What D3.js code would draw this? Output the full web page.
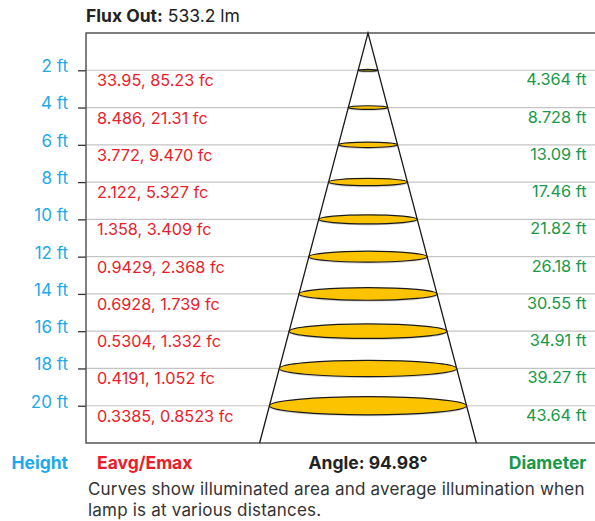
<!DOCTYPE html>
<html>
<head>
<meta charset="utf-8">
<script src="https://cdn.jsdelivr.net/npm/d3@7"></script>
<style>
  body { margin: 0; background: #fff; }
  svg { font-family: Inter, Roboto, "Noto Sans", sans-serif; }
</style>
</head>
<body>
<svg id="chart" width="595" height="521"></svg>
<script>
// data
const heights = [2, 4, 6, 8, 10, 12, 14, 16, 18, 20];
const eavg = ["33.95", "8.486", "3.772", "2.122", "1.358", "0.9429", "0.6928", "0.5304", "0.4191", "0.3385"];
const emax = ["85.23", "21.31", "9.470", "5.327", "3.409", "2.368", "1.739", "1.332", "1.052", "0.8523"];
const diameters = [4.364, 8.728, 13.09, 17.46, 21.82, 26.18, 30.55, 34.91, 39.27, 43.64];
const beamAngle = 94.98;
const fluxOut = "533.2 lm";

const blue = "#1ea9ec", red = "#ec1c2a", green = "#18994a", dark = "#333";
const fs = 16.3;   // value labels
const fsHead = 17.5; // title and column headers

let svg = d3.select("#chart");

let plotLeft = 86, plotRight = 595, plotTop = 33, plotBottom = 443;
let cx = 368;

let yScale = d3.scaleLinear().domain([0, 22]).range([plotTop, plotBottom]);
// horizontal scale for half diameter (ft -> px)
let wScale = d3.scaleLinear().domain([0, 24]).range([0, 108.4]);
let halfAt = h => Math.tan(beamAngle / 2 * Math.PI / 180) * h;

// gridlines
svg.selectAll(".grid")
    .data(heights)
    .enter()
    .append("line")
    .attr("x1", plotLeft).attr("x2", plotRight)
    .attr("y1", d => yScale(d)).attr("y2", d => yScale(d))
    .attr("stroke", "#c4c4c4").attr("stroke-width", 1.2)

// y axis with ticks
let y_axis = d3.axisLeft(yScale)
    .tickValues(heights)
    .tickSize(8)
    .tickPadding(10)
    .tickFormat(d => d + " ft")
let gy = svg.append("g").attr("transform", `translate(${plotLeft},0)`).call(y_axis)
gy.select(".domain").remove()
gy.selectAll(".tick line").attr("stroke", dark).attr("stroke-width", 1.3)
gy.selectAll(".tick text")
    .attr("fill", blue)
    .attr("font-size", 17)
    .attr("font-family", "Inter")
    .attr("dy", "0.08em")

// frame: top, left, bottom
svg.append("path")
    .attr("d", `M${plotRight},${plotTop}H${plotLeft}V${plotBottom}H${plotRight}`)
    .attr("fill", "none").attr("stroke", "#555").attr("stroke-width", 1.5)

// cone
let hBottom = yScale.domain()[1];
svg.append("path")
    .attr("d", d3.line()([
        [cx - wScale(halfAt(hBottom)), yScale(hBottom)],
        [cx, yScale(0)],
        [cx + wScale(halfAt(hBottom)), yScale(hBottom)]
    ]))
    .attr("fill", "none").attr("stroke", "#1a1a1a").attr("stroke-width", 1.3)

// illuminated areas
let spots = svg.selectAll(".spot")
    .data(diameters)
    .enter()
    .append("g")
    .attr("transform", (d, i) => `translate(${cx},${yScale(heights[i])})`)
spots.append("ellipse")
    .attr("cy", 1.5)
    .attr("rx", d => wScale(d / 2))
    .attr("ry", d => wScale(d / 2) * 0.092)
    .attr("fill", "#000").attr("opacity", 0.18)
spots.append("ellipse")
    .attr("rx", d => wScale(d / 2))
    .attr("ry", d => wScale(d / 2) * 0.092)
    .attr("fill", "#fcc400").attr("stroke", "#1a1a1a").attr("stroke-width", 1.2)

// illuminance labels
svg.selectAll(".lux")
    .data(heights)
    .enter()
    .append("text")
    .attr("x", 97)
    .attr("y", d => yScale(d) + 16)
    .attr("fill", red)
    .attr("font-size", fs)
    .text((d, i) => `${eavg[i]}, ${emax[i]} fc`)

// diameter labels
svg.selectAll(".diam")
    .data(diameters)
    .enter()
    .append("text")
    .attr("x", 586.5)
    .attr("y", (d, i) => yScale(heights[i]) + 15)
    .attr("text-anchor", "end")
    .attr("fill", green)
    .attr("font-size", fs)
    .text(d => d.toFixed(d < 10 ? 3 : 2) + " ft")

// title
let title = svg.append("text").attr("x", plotLeft).attr("y", 22).attr("font-size", fsHead).attr("fill", "#222")
title.append("tspan").attr("font-weight", "bold").text("Flux Out:")
title.append("tspan").text(" " + fluxOut)

// column labels
let footY = 469;
svg.append("text").attr("x", 68).attr("y", footY).attr("text-anchor", "end")
    .attr("font-weight", "bold").attr("font-size", fsHead).attr("fill", blue).text("Height")
svg.append("text").attr("x", 97).attr("y", footY)
    .attr("font-weight", "bold").attr("font-size", fsHead).attr("fill", red).text("Eavg/Emax")
svg.append("text").attr("x", cx).attr("y", footY).attr("text-anchor", "middle")
    .attr("font-weight", "bold").attr("font-size", fsHead).attr("fill", "#222").text(`Angle: ${beamAngle}°`)
svg.append("text").attr("x", 586.5).attr("y", footY).attr("text-anchor", "end")
    .attr("font-weight", "bold").attr("font-size", fsHead).attr("fill", green).text("Diameter")

// caption
let caption = ["Curves show illuminated area and average illumination when",
               "lamp is at various distances."]
svg.selectAll(".caption")
    .data(caption)
    .enter()
    .append("text")
    .attr("x", 88)
    .attr("y", (d, i) => 495 + i * 21)
    .attr("font-size", 17)
    .attr("letter-spacing", 0.2)
    .attr("fill", dark)
    .text(d => d)
</script>
</body>
</html>
